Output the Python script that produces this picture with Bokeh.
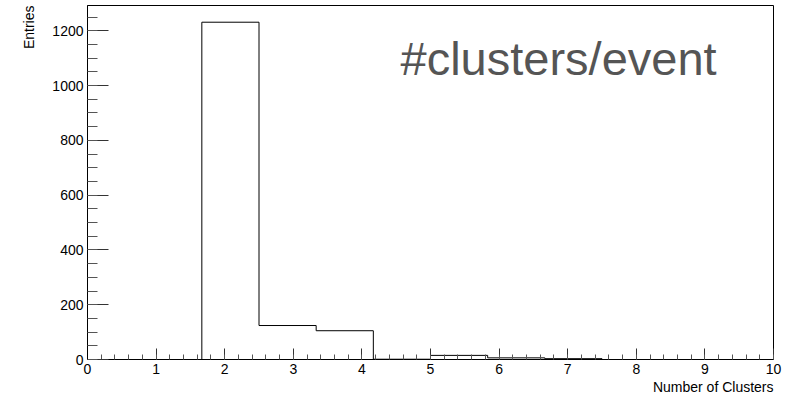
import numpy as np
from bokeh.plotting import figure
from bokeh.models import FixedTicker, Label, Range1d, Title
from bokeh.embed import file_html
from bokeh.resources import INLINE

# Histogram data (12 bins from 0 to 10)
bin_edges = [0.0, 0.8333, 1.6667, 2.5, 3.3333, 4.1667, 5.0, 5.8333, 6.6667, 7.5, 8.3333, 9.1667, 10.0]
counts = [0, 0, 1231, 124, 105, 1, 15, 6, 3, 0, 0, 0]

x_ticks = [0, 1, 2, 3, 4, 5, 6, 7, 8, 9, 10]
x_tick_labels = ["0", "1", "2", "3", "4", "5", "6", "7", "8", "9", "10"]
y_ticks = [0, 200, 400, 600, 800, 1000, 1200]
y_tick_labels = ["0", "200", "400", "600", "800", "1000", "1200"]

y_max = 1292
FONT = "Liberation Sans"

p = figure(width=792, height=394,
           x_range=Range1d(0, 10), y_range=Range1d(0, y_max),
           output_backend="svg", toolbar_location=None,
           min_border_left=87, min_border_right=19,
           min_border_top=5, min_border_bottom=34)
p.grid.visible = False
p.outline_line_color = "black"
p.outline_line_width = 1
p.background_fill_color = "white"
p.border_fill_color = "white"

# histogram outline
p.step(x=bin_edges, y=counts + [counts[-1]], mode="after",
       line_color="black", line_width=1)

x_minor = np.round(np.arange(0, 10.001, 0.2), 2).tolist()
y_minor = list(range(0, 1300, 50))

xa = p.xaxis[0]
xa.ticker = FixedTicker(ticks=x_ticks, minor_ticks=x_minor)
xa.major_label_overrides = {t: l for t, l in zip(x_ticks, x_tick_labels)}
xa.major_tick_in = 11
xa.major_tick_out = 0
xa.minor_tick_in = 5
xa.minor_tick_out = 0
xa.major_label_standoff = 4
xa.major_label_text_font = FONT
xa.major_label_text_font_size = "14px"
xa.major_label_text_color = "black"
xa.axis_line_color = "black"
xa.major_tick_line_color = "#333333"
xa.minor_tick_line_color = "#555555"

ya = p.yaxis[0]
ya.ticker = FixedTicker(ticks=y_ticks, minor_ticks=y_minor)
ya.major_label_overrides = {t: l for t, l in zip(y_ticks, y_tick_labels)}
ya.major_tick_in = 21
ya.major_tick_out = 0
ya.minor_tick_in = 10
ya.minor_tick_out = 0
ya.major_label_standoff = 4
ya.major_label_text_font = FONT
ya.major_label_text_font_size = "14px"
ya.major_label_text_color = "black"
ya.axis_line_color = "black"
ya.major_tick_line_color = "#333333"
ya.minor_tick_line_color = "#555555"

p.add_layout(Title(text="Number of Clusters", align="right", standoff=0,
                   text_font=FONT, text_font_size="14px",
                   text_font_style="normal", text_color="black"), "below")
p.add_layout(Title(text="Entries", align="right", standoff=25,
                   text_font=FONT, text_font_size="14px",
                   text_font_style="normal", text_color="black"), "left")

px_x = 10 / 686.0
p.add_layout(Label(x=313 * px_x, y=1099, text="#clusters/event",
                   text_align="left", text_baseline="alphabetic",
                   text_font=FONT, text_font_size="47px", text_color="#555555"))

open("out.html", "w").write(file_html(p, INLINE))
